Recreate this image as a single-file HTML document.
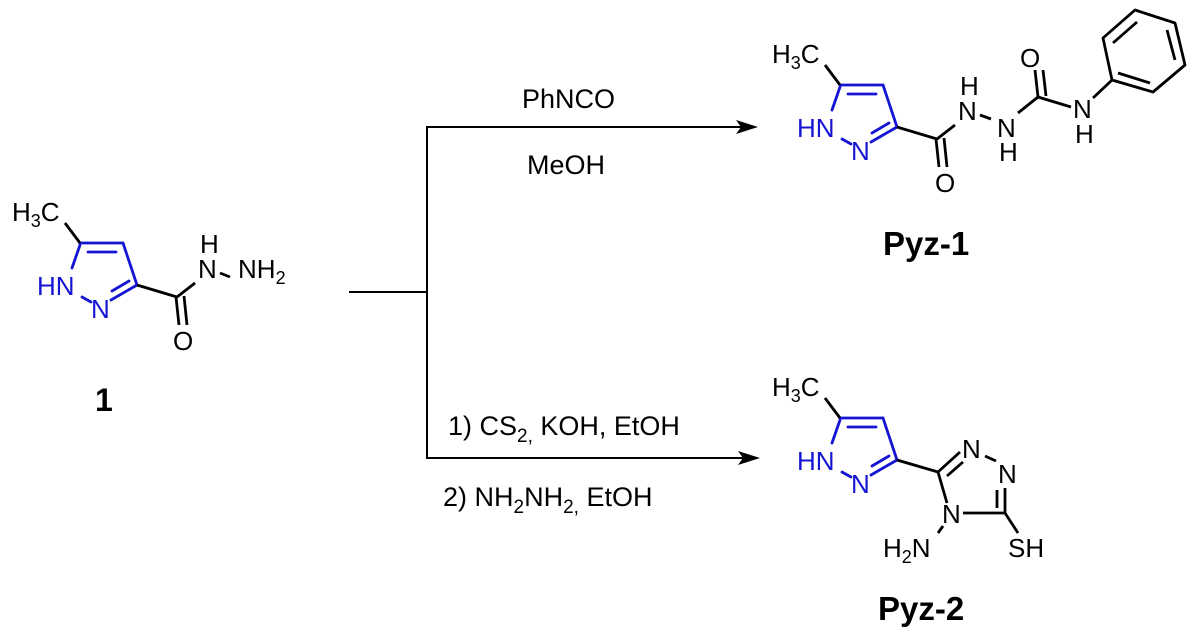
<!DOCTYPE html>
<html><head><meta charset="utf-8"><style>
html,body{margin:0;padding:0;background:#fff;}
svg{display:block;}
text{font-family:"Liberation Sans",Arial,sans-serif;}
</style></head><body>
<svg width="1197" height="632" viewBox="0 0 1197 632" xmlns="http://www.w3.org/2000/svg">
<defs>
<g id="pyr">
  <g stroke="#1414d2" stroke-width="2.8" fill="none" stroke-linecap="round">
    <line x1="80" y1="243" x2="123" y2="243"/>
    <line x1="88" y1="252" x2="116" y2="252"/>
    <line x1="123" y1="243" x2="137" y2="285"/>
    <line x1="137" y1="285" x2="111" y2="300"/>
    <line x1="129" y1="281" x2="112" y2="291"/>
    <line x1="80" y1="245" x2="72" y2="268"/>
    <line x1="82" y1="297" x2="91" y2="302"/>
  </g>
  <line x1="65" y1="223" x2="80" y2="243" stroke="#000" stroke-width="2.8"/>
  <text x="12" y="221" font-size="26" fill="#000">H<tspan font-size="18" dy="6">3</tspan><tspan dy="-6">C</tspan></text>
  <text x="37" y="295" font-size="26" fill="#1414d2">HN</text>
  <text x="91" y="318" font-size="26" fill="#1414d2">N</text>
</g>
</defs>

<!-- compound 1 -->
<use href="#pyr"/>
<g stroke="#000" stroke-width="2.8" fill="none">
  <line x1="137" y1="285" x2="177" y2="297"/>
  <line x1="177" y1="297" x2="195" y2="283"/>
  <line x1="176" y1="297" x2="179" y2="325"/>
  <line x1="184" y1="296" x2="187" y2="325"/>
  <line x1="220" y1="273" x2="230" y2="277"/>
</g>
<text x="200" y="253" font-size="26">H</text>
<text x="198" y="278" font-size="26">N</text>
<text x="238" y="278" font-size="26">NH<tspan font-size="18" dy="6">2</tspan></text>
<text x="173" y="350" font-size="26">O</text>
<text x="95" y="411" font-size="32" font-weight="bold">1</text>

<!-- arrows -->
<g stroke="#000" stroke-width="2" fill="none">
  <line x1="349" y1="292" x2="427" y2="292"/>
  <line x1="427" y1="126" x2="427" y2="459"/>
  <line x1="427" y1="127" x2="742" y2="127"/>
  <line x1="427" y1="458" x2="744" y2="458"/>
</g>
<polygon points="758,127 736,120 741,127 736,134" fill="#000"/>
<polygon points="760,458 738,451 743,458 738,465" fill="#000"/>
<text x="522" y="108" font-size="27">PhNCO</text>
<text x="527" y="174" font-size="27">MeOH</text>
<text x="448" y="435" font-size="27">1) CS<tspan font-size="19" dy="7">2,</tspan><tspan dy="-7"> KOH, EtOH</tspan></text>
<text x="443" y="506" font-size="27">2) NH<tspan font-size="19" dy="7">2</tspan><tspan dy="-7">NH</tspan><tspan font-size="19" dy="7">2,</tspan><tspan dy="-7"> EtOH</tspan></text>

<!-- Pyz-1 -->
<use href="#pyr" transform="translate(760,-158)"/>
<g stroke="#000" stroke-width="2.8" fill="none" stroke-linejoin="round">
  <line x1="897" y1="127" x2="937" y2="139"/>
  <line x1="937" y1="139" x2="955" y2="125"/>
  <line x1="936" y1="139" x2="939" y2="167"/>
  <line x1="944" y1="138" x2="947" y2="167"/>
  <line x1="980" y1="115" x2="991" y2="119"/>
  <line x1="1018" y1="113" x2="1038" y2="97"/>
  <line x1="1038" y1="97" x2="1035" y2="70"/>
  <line x1="1046" y1="96" x2="1043" y2="70"/>
  <line x1="1038" y1="97" x2="1071" y2="107"/>
  <line x1="1093" y1="98" x2="1112" y2="80"/>
  <polygon points="1112,80 1103,38 1135,10 1175,23 1185,65 1153,92"/>
  <line x1="1113" y1="43" x2="1137" y2="22"/>
  <line x1="1167" y1="30" x2="1175" y2="60"/>
  <line x1="1118" y1="73" x2="1150" y2="83"/>
</g>
<text x="958" y="120" font-size="26">N</text>
<text x="960" y="95" font-size="26">H</text>
<text x="997" y="137" font-size="26">N</text>
<text x="999" y="161" font-size="26">H</text>
<text x="1020" y="67" font-size="26">O</text>
<text x="935" y="192" font-size="26">O</text>
<text x="1073" y="118" font-size="26">N</text>
<text x="1075" y="143" font-size="26">H</text>
<text x="883" y="255" font-size="33" font-weight="bold">Pyz-1</text>

<!-- Pyz-2 -->
<use href="#pyr" transform="translate(760,175)"/>
<g stroke="#000" stroke-width="2.8" fill="none">
  <line x1="897" y1="460" x2="938" y2="472"/>
  <line x1="938" y1="472" x2="960" y2="452"/>
  <line x1="947" y1="476" x2="963" y2="462"/>
  <line x1="985" y1="456" x2="996" y2="461"/>
  <line x1="1005" y1="488" x2="1005" y2="513"/>
  <line x1="997" y1="490" x2="997" y2="508"/>
  <line x1="1005" y1="513" x2="963" y2="513"/>
  <line x1="947" y1="503" x2="938" y2="472"/>
  <line x1="943" y1="526" x2="938" y2="533"/>
  <line x1="1005" y1="513" x2="1018" y2="533"/>
</g>
<text x="962" y="458" font-size="26">N</text>
<text x="998" y="483" font-size="26">N</text>
<text x="942" y="523" font-size="26">N</text>
<text x="883" y="557" font-size="26">H<tspan font-size="18" dy="6">2</tspan><tspan dy="-6">N</tspan></text>
<text x="1008" y="557" font-size="26">SH</text>
<text x="878" y="620" font-size="33" font-weight="bold">Pyz-2</text>
</svg>
</body></html>
